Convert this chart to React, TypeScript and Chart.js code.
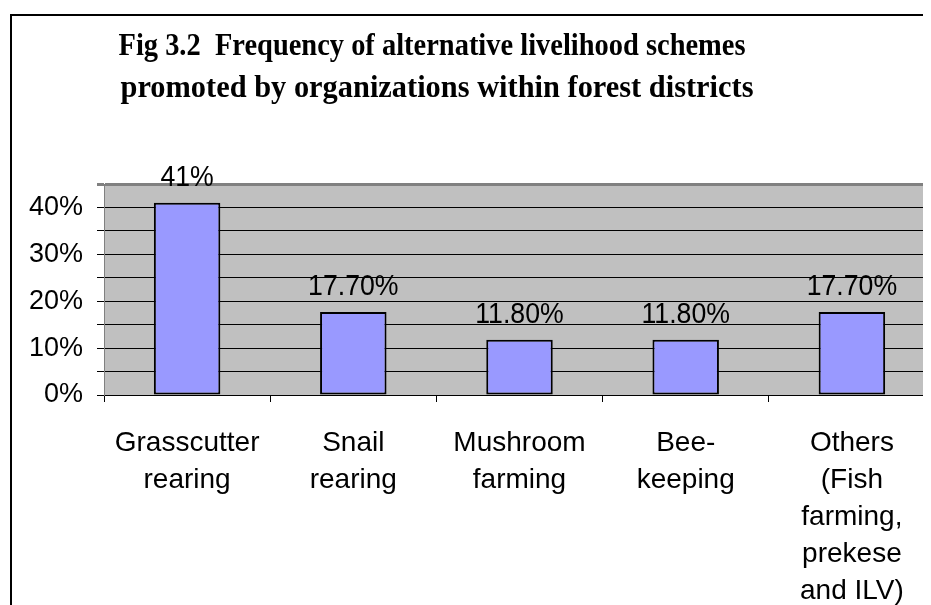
import React, { useEffect, useRef } from 'react';
import { Chart, registerables } from 'chart.js';

Chart.register(...registerables);

const categories: string[][] = [
  ['Grasscutter', 'rearing'],
  ['Snail', 'rearing'],
  ['Mushroom', 'farming'],
  ['Bee-', 'keeping'],
  ['Others', '(Fish', 'farming,', 'prekese', 'and ILV)'],
];
const values: number[] = [41, 17.7, 11.8, 11.8, 17.7];
const valueLabels: string[] = ['41%', '17.70%', '11.80%', '11.80%', '17.70%'];
const titleLines: string[] = [
  'Fig 3.2  Frequency of alternative livelihood schemes',
  'promoted by organizations within forest districts',
];
const yMin = 0;
const yMax = 45;
const yStep = 5;

const SANS = '"Liberation Sans", Arial, sans-serif';
const SERIF = '"Liberation Serif", "Times New Roman", serif';

export default function App() {
  const canvasRef = useRef<HTMLCanvasElement | null>(null);

  useEffect(() => {
    if (!canvasRef.current) return;

    const plotBg = {
      id: 'plotBg',
      beforeDraw(chart: any) {
        const { ctx, chartArea } = chart;
        ctx.save();
        ctx.fillStyle = '#C0C0C0';
        ctx.fillRect(chartArea.left, chartArea.top, chartArea.right - chartArea.left, chartArea.bottom - chartArea.top);
        ctx.restore();
      },
    };

    const titleDraw = {
      id: 'titleDraw',
      afterDraw(chart: any) {
        const { ctx } = chart;
        ctx.save();
        ctx.font = `bold 31px ${SERIF}`;
        ctx.fillStyle = '#000';
        ctx.textAlign = 'center';
        ctx.textBaseline = 'alphabetic';
        const targets = [627, 633];
        const centers = [420, 425];
        const baselines = [39, 81];
        titleLines.forEach((t, i) => {
          const w = ctx.measureText(t).width;
          const sx = targets[i] / w;
          ctx.save();
          ctx.translate(centers[i], baselines[i]);
          ctx.scale(sx, 1);
          ctx.fillText(t, 0, 0);
          ctx.restore();
        });
        ctx.restore();
      },
    };

    const valueDraw = {
      id: 'valueDraw',
      afterDatasetsDraw(chart: any) {
        const { ctx } = chart;
        const meta = chart.getDatasetMeta(0);
        ctx.save();
        ctx.font = `29px ${SANS}`;
        ctx.fillStyle = '#000';
        ctx.textAlign = 'center';
        ctx.textBaseline = 'alphabetic';
        meta.data.forEach((bar: any, i: number) => {
          ctx.save();
          ctx.translate(bar.x, bar.y - 17);
          ctx.scale(0.92, 1);
          ctx.fillText(valueLabels[i], 0, 0);
          ctx.restore();
        });
        ctx.restore();
      },
    };

    const chart = new Chart(canvasRef.current, {
      type: 'bar',
      data: {
        labels: categories,
        datasets: [
          {
            data: values,
            backgroundColor: '#9999FF',
            borderColor: '#000000',
            borderWidth: 2,
            borderSkipped: false,
            barPercentage: 0.4,
            categoryPercentage: 1,
          },
        ],
      },
      options: {
        responsive: false,
        animation: false,
        devicePixelRatio: 1,
        layout: { padding: { top: 168, right: 17, left: 0, bottom: 0 } },
        plugins: {
          legend: { display: false },
          title: { display: false },
          tooltip: { enabled: false },
        },
        scales: {
          x: {
            offset: true,
            grid: {
              offset: true,
              drawOnChartArea: false,
              drawTicks: true,
              tickLength: 7,
              color: '#000',
            },
            border: { color: '#000', width: 1 },
            ticks: {
              color: '#000',
              font: { family: SANS, size: 28, lineHeight: 1.32 },
              padding: 23,
              maxRotation: 0,
              autoSkip: false,
            },
            afterFit(axis: any) {
              axis.height = 640 - 379;
            },
          },
          y: {
            min: yMin,
            max: yMax,
            grid: {
              color: (c: any) => (c.tick && c.tick.value === yMax ? '#808080' : '#000'),
              lineWidth: (c: any) => (c.tick && c.tick.value === yMax ? 3 : 1),
              tickLength: 7,
              drawTicks: true,
            },
            border: { color: '#808080', width: 1 },
            ticks: {
              stepSize: yStep,
              autoSkip: false,
              color: '#000',
              padding: 14,
              font: { family: SANS, size: 27 },
              callback: (v: any) => (Number(v) % 10 === 0 ? `${v}%` : ''),
            },
            afterFit(axis: any) {
              axis.width = 92;
            },
          },
        },
      },
      plugins: [plotBg, titleDraw, valueDraw],
    });

    return () => chart.destroy();
  }, []);

  return (
    <div style={{ width: 923, height: 597, overflow: 'hidden', position: 'relative' }}>
      <div
        style={{
          position: 'absolute',
          left: 2,
          top: 6,
          width: 1000,
          height: 700,
          border: '2px solid #000',
          background: '#fff',
        }}
      >
        <canvas ref={canvasRef} width={940} height={640} style={{ display: 'block', width: 940, height: 640 }} />
      </div>
    </div>
  );
}
